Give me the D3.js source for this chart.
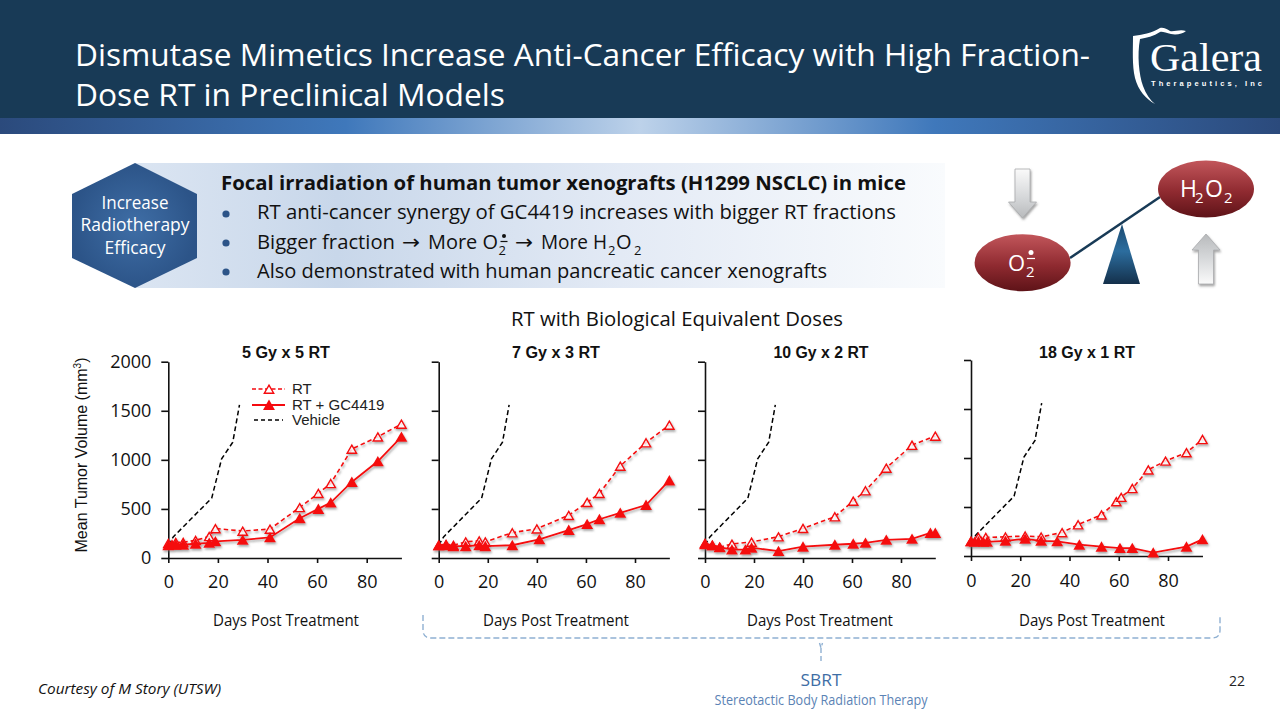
<!DOCTYPE html>
<html><head><meta charset="utf-8">
<script src="https://cdn.jsdelivr.net/npm/d3@7"></script>
<style>html,body{margin:0;padding:0;background:#fff;overflow:hidden}svg{display:block}</style>
</head><body><svg id="c" width="1280" height="720"></svg>
<script>
// ---- data ----
const panelTitles = ["5 Gy x 5 RT","7 Gy x 3 RT","10 Gy x 2 RT","18 Gy x 1 RT"];
const xTicks = [0,20,40,60,80];
const yTicks = [0,500,1000,1500,2000];
const vehicleDays = [0,2,17.5,21.5,26,28.7];
const vehicleVol  = [130,215,610,1010,1180,1560];
const rtDays1 = [0,3,6,11,16.5,19,30,41,53,60.5,65.5,74,84.5,94];
const rtVol1  = [150,160,160,180,220,300,275,295,515,660,760,1110,1235,1365];
const comboDays1 = [0,1.5,3,6,11,16.5,19,30,41,53,60.5,65.5,74,84.5,94];
const comboVol1  = [130,135,135,135,145,155,170,185,210,405,500,565,775,985,1235];
const rtDays2 = [0,3,6,11,16.5,19,30,40,53,60.5,65.5,74,84.5,94];
const rtVol2  = [130,140,130,165,175,165,258,298,435,567,659,937,1175,1355];
const comboDays2 = [0,3,6,11,16.5,19,30,41,53,60.5,65.5,74,84.5,94];
const comboVol2  = [130,130,120,120,130,120,130,190,285,345,395,460,540,790];
const rtDays3 = [0,3,6,11,19,30,40,53,60.5,65.5,74,84.5,94];
const rtVol3  = [150,130,110,143,163,217,302,421,580,686,917,1150,1243];
const comboDays3 = [0,3,6,11,16.5,19,30,40,53,60.5,65.5,74,84.5,92,94];
const comboVol3  = [140,130,110,85,85,105,70,115,135,145,155,185,195,255,255];
const rtDays4 = [0,3,6,14,22,28.5,37,43.5,53,59,61,65.5,72,79,87.5,94];
const rtVol4  = [150,190,190,195,205,195,240,320,420,555,600,690,880,970,1055,1190];
const comboDays4 = [0,1.5,3,5,6.5,14,22,28.5,35,44,53,60.5,65.5,74,87.5,94];
const comboVol4  = [150,145,150,145,145,155,175,155,150,115,95,80,80,35,95,170];
const rtDays = [rtDays1,rtDays2,rtDays3,rtDays4];
const rtVols = [rtVol1,rtVol2,rtVol3,rtVol4];
const comboDays = [comboDays1,comboDays2,comboDays3,comboDays4];
const comboVols = [comboVol1,comboVol2,comboVol3,comboVol4];
const legendLabels = ["RT","RT + GC4419","Vehicle"];
const bullets = ["RT anti-cancer synergy of GC4419 increases with bigger RT fractions","Also demonstrated with human pancreatic cancer xenografts"];

// ---- layout ----
const panelBox = [
 {x0:168.3,x80:366.7,y0:558,y2:361.7,tx:286,lx:286,pad:12},
 {x0:438.7,x80:635,y0:558,y2:361.7,tx:556,lx:556,pad:12},
 {x0:705,x80:901,y0:558,y2:361.7,tx:821,lx:820,pad:12},
 {x0:971,x80:1168,y0:556,y2:360,tx:1087,lx:1092,pad:13}];
const UI = "'Open Sans',sans-serif", AR = "'Liberation Sans',Arial,sans-serif";
const RED = "#f50a0f", NAVY = "#183a56";
const MARK_DY = 1.5;

const svg = d3.select("#c");
const defs = svg.append("defs");
function lin(id,stops,x2,y2){const g=defs.append("linearGradient").attr("id",id).attr("x1",0).attr("y1",0).attr("x2",x2).attr("y2",y2);
  stops.forEach(s=>g.append("stop").attr("offset",s[0]).attr("stop-color",s[1]));}
lin("band",[[0,"#2b4a7c"],[.27,"#3f78bb"],[.5,"#bdd2ea"],[.73,"#3f78bb"],[1,"#2b4a7c"]],1,0);
lin("box",[[0,"#dbe5f2"],[.25,"#c8d7ea"],[.6,"#e3eaf5"],[1,"#f9fbfd"]],1,0);
lin("ball",[[0,"#c2565b"],[.55,"#8f2a30"],[1,"#5e1318"]],0,1);
lin("tri",[[0,"#1c4a70"],[.45,"#2c6d9e"],[1,"#14304b"]],0,1);
lin("arr",[[0,"#fafafa"],[.6,"#d4d6d8"],[1,"#b8babc"]],0,1);
lin("arrU",[[0,"#b8babc"],[.45,"#d4d6d8"],[1,"#fafafa"]],0,1);
const rg=defs.append("radialGradient").attr("id","hex");
rg.append("stop").attr("offset",0).attr("stop-color","#3f6ea6");
rg.append("stop").attr("offset",1).attr("stop-color","#2c5488");
const fs=defs.append("filter").attr("id","sh").attr("x","-30%").attr("y","-30%").attr("width","170%").attr("height","170%");
fs.append("feDropShadow").attr("dx",1).attr("dy",1.8).attr("stdDeviation",1.1).attr("flood-color","#666").attr("flood-opacity",.6);

function T(p,x,y,s,size,opt={}){
  const t=p.append("text").attr("x",x).attr("y",y).attr("font-family",opt.font||UI).attr("font-size",size)
   .attr("fill",opt.fill||"#111").attr("text-anchor",opt.anchor||"start").text(s);
  if(opt.weight)t.attr("font-weight",opt.weight);
  if(opt.style)t.attr("font-style",opt.style);
  if(opt.w)t.attr("textLength",opt.w).attr("lengthAdjust",opt.adj||"spacingAndGlyphs");
  return t;
}

// header
svg.append("rect").attr("width",1280).attr("height",118).attr("fill",NAVY);
svg.append("rect").attr("y",118).attr("width",1280).attr("height",16).attr("fill","url(#band)");
T(svg,75,66,"Dismutase Mimetics Increase Anti-Cancer Efficacy with High Fraction-",30.5,{fill:"#fff",w:1015});
T(svg,75,106,"Dose RT in Preclinical Models",30.5,{fill:"#fff",w:430});

// logo
const logo=svg.append("g");
logo.append("path").attr("fill","#fff").attr("d","M1133,36 C1142,35 1152,33 1160,28 C1163,27 1167,29 1170,31 C1174,32 1180,29 1186,31 C1183,34 1176,35 1171,34 C1166,33 1162,31 1160,32 C1154,36 1146,38 1140,39 C1137,55 1139,75 1143,86 C1146,94 1150,100 1155,104 C1146,99 1138,90 1135,78 C1132,65 1133,50 1133,36Z");
T(logo,1150,70.5,"Galera",39,{font:"'Liberation Serif',serif",fill:"#fff",w:112});
T(logo,1151,85.5,"Therapeutics, Inc",7.5,{font:AR,fill:"#fff",weight:"bold",w:111,adj:"spacing"});

// callout
svg.append("rect").attr("x",135).attr("y",163).attr("width",810).attr("height",125).attr("fill","url(#box)");
svg.append("path").attr("fill","url(#hex)").attr("d","M135,163L197,194V258L135,288L72,258V194Z");
[["Increase",209,67],["Radiotherapy",231,109],["Efficacy",254,61]].forEach(d=>T(svg,135,d[1],d[0],17.5,{fill:"#fff",anchor:"middle",w:d[2]}));
T(svg,221,190,"Focal irradiation of human tumor xenografts (H1299 NSCLC) in mice",20,{weight:"bold",w:685});
[214,243,272].forEach(y=>svg.append("circle").attr("cx",226).attr("cy",y).attr("r",3.6).attr("fill","#2c5488"));
T(svg,257,219,bullets[0],20,{w:639});
T(svg,257,249,"Bigger fraction",20,{w:138});
T(svg,402,249,"\u2192",20,{font:"'DejaVu Sans',sans-serif",w:18});
T(svg,428,249,"More O",20,{w:70});
T(svg,498.5,255,"2",13);
svg.append("circle").attr("cx",504).attr("cy",236).attr("r",2).attr("fill","#111");
svg.append("line").attr("x1",500.5).attr("x2",507.5).attr("y1",241.5).attr("y2",241.5).attr("stroke","#111").attr("stroke-width",1.2);
T(svg,515,249,"\u2192",20,{font:"'DejaVu Sans',sans-serif",w:18});
T(svg,541,249,"More H",20,{w:66});
T(svg,608,255,"2",13);T(svg,616,249,"O",20);T(svg,634,255,"2",13);
T(svg,257,278,bullets[1],20,{w:570});

// balance diagram
const bal=svg.append("g");
bal.append("line").attr("x1",1070).attr("y1",258).attr("x2",1160).attr("y2",197).attr("stroke",NAVY).attr("stroke-width",2.5);
bal.append("path").attr("d","M1122,224L1140,284H1103Z").attr("fill","url(#tri)");
[[1022.6,262.7],[1206,189]].forEach(c=>bal.append("ellipse").attr("cx",c[0]).attr("cy",c[1]).attr("rx",48).attr("ry",28.5).attr("fill","url(#ball)"));
T(bal,1008,271,"O",22,{fill:"#fff"});
T(bal,1026,277,"2",15,{fill:"#fff"});
bal.append("circle").attr("cx",1031).attr("cy",252.5).attr("r",2.5).attr("fill","#fff");
bal.append("line").attr("x1",1027).attr("x2",1035).attr("y1",258.5).attr("y2",258.5).attr("stroke","#fff").attr("stroke-width",1.2);
T(bal,1180,197,"H",23,{fill:"#fff"});T(bal,1195,203,"2",15,{fill:"#fff"});T(bal,1205,197,"O",23,{fill:"#fff"});T(bal,1224,203,"2",15,{fill:"#fff"});
bal.append("path").attr("d","M1015,169H1030V202H1036.5L1022.5,218L1008.5,202H1015Z").attr("fill","url(#arr)").attr("stroke","#a9abad").attr("stroke-width",.8).attr("filter","url(#sh)");
bal.append("path").attr("d","M1206,234L1220,250H1213.5V284H1198.5V250H1192Z").attr("fill","url(#arrU)").attr("stroke","#a9abad").attr("stroke-width",.8).attr("filter","url(#sh)");

// chart section title
T(svg,677,326,"RT with Biological Equivalent Doses",20,{anchor:"middle",w:332});

// panels
const tri=(sz)=>d3.symbol().type(d3.symbolTriangle).size(sz)();
const OPEN=38, FILLED=62;
panelBox.forEach((b,i)=>{
  const g=svg.append("g");
  const k=(b.x80-b.x0)/80;
  const x=d3.scaleLinear().domain([0,94]).range([b.x0,b.x0+94*k]);
  const y=d3.scaleLinear().domain([0,2000]).range([b.y0,b.y2]);
  const line=d3.line().x(d=>x(d[0])).y(d=>y(d[1]));
  const xa=g.append("g").attr("transform",`translate(0,${b.y0})`).call(d3.axisBottom(x).tickValues(xTicks).tickSize(5).tickSizeOuter(0).tickPadding(b.pad));
  const ya=g.append("g").attr("transform",`translate(${b.x0},0)`).call(d3.axisLeft(y).tickValues(yTicks).tickFormat(d3.format("d")).tickSize(7).tickSizeOuter(0).tickPadding(10));
  [xa,ya].forEach(a=>{a.selectAll("path,line").attr("stroke","#111").attr("stroke-width",1.6);
    a.selectAll("text").attr("font-family",UI).attr("font-size",18).attr("fill","#111");a.attr("font-family",null).attr("font-size",null);});
  if(i>0) ya.selectAll("text").remove();
  T(g,b.tx,358,panelTitles[i],16,{font:AR,weight:"bold",anchor:"middle",w:i<2?88:(i==2?95:96)});
  T(g,b.lx,626,"Days Post Treatment",16.5,{anchor:"middle",w:146});
  g.append("path").datum(d3.zip(vehicleDays,vehicleVol)).attr("d",line).attr("fill","none").attr("stroke","#000").attr("stroke-width",1.5).attr("stroke-dasharray","5,3");
  const rt=d3.zip(rtDays[i],rtVols[i]), co=d3.zip(comboDays[i],comboVols[i]);
  const sg=g.append("g").attr("filter","url(#sh)");
  sg.append("path").datum(rt).attr("d",line).attr("fill","none").attr("stroke",RED).attr("stroke-width",1.6).attr("stroke-dasharray","4.5,3");
  sg.selectAll("path.o").data(rt).join("path").attr("class","o").attr("d",tri(OPEN)).attr("transform",d=>`translate(${x(d[0])},${y(d[1])+MARK_DY})`).attr("fill","#fff").attr("fill-opacity",.8).attr("stroke",RED).attr("stroke-width",1.4);
  sg.append("path").datum(co).attr("d",line).attr("fill","none").attr("stroke",RED).attr("stroke-width",1.8);
  sg.selectAll("path.f").data(co).join("path").attr("class","f").attr("d",tri(FILLED)).attr("transform",d=>`translate(${x(d[0])},${y(d[1])+MARK_DY})`).attr("fill",RED);
});

// y axis title
const yl=svg.append("text").attr("transform","translate(87,455) rotate(-90)").attr("text-anchor","middle").attr("font-family",AR).attr("font-size",16).attr("fill","#111");
yl.append("tspan").text("Mean Tumor Volume (mm");
yl.append("tspan").attr("dy",-6).attr("font-size",10).text("3");
yl.append("tspan").attr("dy",6).text(")");

// legend
const lg=svg.append("g");
const lgY=[389,405,420];
lg.append("line").attr("x1",252).attr("x2",285).attr("y1",lgY[0]).attr("y2",lgY[0]).attr("stroke",RED).attr("stroke-width",1.5).attr("stroke-dasharray","4,2.5");
lg.append("path").attr("d",tri(OPEN)).attr("transform",`translate(269,${lgY[0]+MARK_DY})`).attr("fill","#fff").attr("stroke",RED).attr("stroke-width",1.4);
lg.append("line").attr("x1",252).attr("x2",285).attr("y1",lgY[1]).attr("y2",lgY[1]).attr("stroke",RED).attr("stroke-width",1.8);
lg.append("path").attr("d",tri(FILLED)).attr("transform",`translate(269,${lgY[1]+MARK_DY})`).attr("fill",RED);
lg.append("line").attr("x1",254).attr("x2",283).attr("y1",lgY[2]).attr("y2",lgY[2]).attr("stroke","#000").attr("stroke-width",1.3).attr("stroke-dasharray","4,3");
legendLabels.forEach((s,i)=>T(lg,292,lgY[i]+5,s,15,{font:AR,fill:"#222"}));

// SBRT bracket
svg.append("path").attr("fill","none").attr("stroke","#8fb0d2").attr("stroke-width",1.4).attr("stroke-dasharray","6,3")
  .attr("d","M423,615V630Q423,638 431,638H1212Q1220,638 1220,630V615");
svg.append("path").attr("fill","none").attr("stroke","#8fb0d2").attr("stroke-width",1.4).attr("stroke-dasharray","5,3")
  .attr("d","M819.5,643L821,648L822.5,643M821,648V663");
T(svg,821,686,"SBRT",17,{anchor:"middle",fill:"#3f6ea5",w:41});
T(svg,821,705,"Stereotactic Body Radiation Therapy",14,{anchor:"middle",fill:"#5b83b5",w:213});
T(svg,1229,686,"22",14,{fill:"#222"});
T(svg,38,694,"Courtesy of M Story (UTSW)",15,{style:"italic",w:183});
</script></body></html>
